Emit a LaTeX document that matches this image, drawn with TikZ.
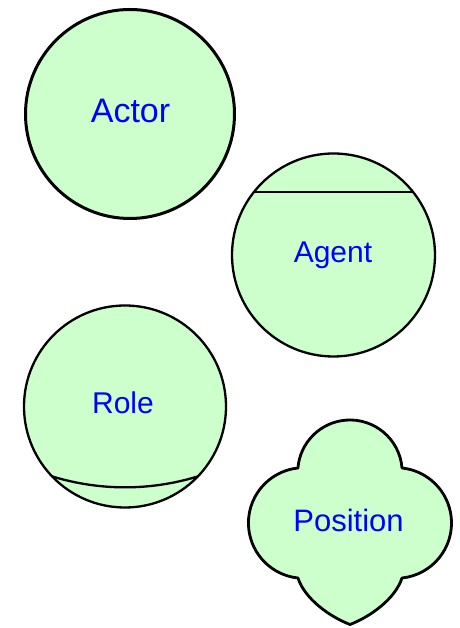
\documentclass[tikz,border=0pt]{standalone}
\usepackage{fontspec}
\setmainfont{Liberation Sans}
\definecolor{paleg}{HTML}{CCFFCC}
\definecolor{lblblue}{HTML}{0000FF}
\usetikzlibrary{positioning}

\begin{document}
\begin{tikzpicture}[
    x=1pt, y=1pt,
    ent/.style={circle, draw=black, fill=paleg, line width=2.3pt,
                outer sep=0pt, inner sep=0pt},
    chord/.style={line width=2.3pt},
    lbl/.style={anchor=base, text=lblblue, inner sep=0pt,
                font=\fontsize{30}{36}\selectfont}
  ]
  \useasboundingbox (0,0) rectangle (459,628);

  % the four kinds of entity
  \node[ent, minimum size=209, line width=3pt] (actor) at (130,514) {};
  \node[ent, minimum size=203] (agent) at (333.5,373) {};
  \node[ent, minimum size=202] (role)  at (125,221.5) {};

  % agent: straight chord near the top
  \draw[chord, shift={(agent.center)}] (141.4:101.5) -- (38.6:101.5);

  % role: curved chord near the bottom
  \draw[chord, shift={(role.center)}] (223.8:101) .. controls (-25,-84.5) and (25,-84.5) .. (316.2:101);

  % position: four lobes, pointed at the bottom
  \draw[line width=2.8pt, fill=paleg, line join=round]
    (402,160) arc[start angle=4.6, end angle=175.4, radius=52.2]
              arc[start angle=96, end angle=264, radius=55.3]
              .. controls (304.8,29.1) and (329.5,11.4) .. (350,3.5)
              .. controls (370.5,11.4) and (395.2,29.1) .. (402,50)
              arc[start angle=-84, end angle=84, radius=55.3]
    -- cycle;
  \coordinate (pos) at (350,105);

  % labels
  \node[lbl, font=\fontsize{34}{40}\selectfont] (actortxt) at (130.5,505) {Actor};
  \node[lbl] (agenttxt) at (333,365) {Agent};
  \node[lbl] (roletxt)  at (123,214) {Role};
  \node[lbl, font=\fontsize{31}{37}\selectfont] (postxt) at (348.5,96) {Position};
\end{tikzpicture}
\end{document}
